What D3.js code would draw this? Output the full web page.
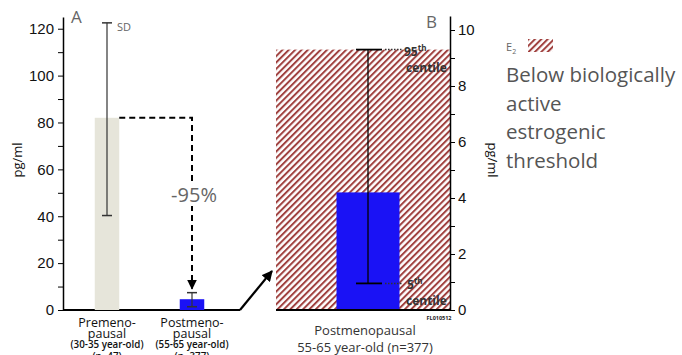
<!DOCTYPE html>
<html>
<head>
<meta charset="utf-8">
<script src="https://cdn.jsdelivr.net/npm/d3@7"></script>
<style>
  body { margin: 0; background: #fff; }
  svg { display: block; font-family: "Open Sans", sans-serif; }
</style>
</head>
<body>
<svg id="chart" width="682" height="355"></svg>
<script>
// Panel A: mean +/- SD, pg/ml
const groupsA = ["pre", "post"];
const labelsA = [
  ["Premeno-", "pausal", "(30-35 year-old)", "(n=47)"],
  ["Postmeno-", "pausal", "(55-65 year-old)", "(n=377)"]
];
const meansA = [82, 4.6];
const sdLowA = [40.3, 1.4];
const sdHighA = [122.5, 7.4];
const colorsA = ["#e6e5da", "#1a12f5"];
const ticksA = [0, 20, 40, 60, 80, 100, 120];
const minorA = [10, 30, 50, 70, 90, 110];

// Panel B: postmenopausal zoom
const meanB = 4.2;
const p5B = 0.95;
const p95B = 9.3;
const thresholdB = 9.3;
const ticksB = [0, 2, 4, 6, 8, 10];
const minorB = [1, 3, 5, 7, 9];
const labelsB = ["Postmenopausal", "55-65 year-old (n=377)"];
const legendLines = ["Below biologically", "active", "estrogenic", "threshold"];

const svg = d3.select("#chart");

// hatch pattern
const defs = svg.append("defs");
const pat = defs.append("pattern")
  .attr("id", "hatch")
  .attr("patternUnits", "userSpaceOnUse")
  .attr("width", 4.5).attr("height", 4.5)
  .attr("patternTransform", "rotate(45)");
pat.append("rect").attr("width", 4.5).attr("height", 4.5).attr("fill", "#fff");
pat.append("rect").attr("width", 2).attr("height", 4.5).attr("fill", "#a0413f");

defs.append("marker")
  .attr("id", "arrow")
  .attr("viewBox", "0 0 10 10")
  .attr("refX", 9).attr("refY", 5)
  .attr("markerWidth", 5).attr("markerHeight", 5)
  .attr("orient", "auto")
  .append("path").attr("d", "M0,0 L10,5 L0,10 z").attr("fill", "#000");

// ---- Panel A ----
const yA = d3.scaleLinear().domain([0, 125]).range([310, 17]);
const xA = d3.scalePoint().domain(groupsA).range([107, 192]);
const barW = 24.5;

const gA = svg.append("g");
gA.append("g")
  .attr("transform", "translate(63,0)")
  .call(d3.axisLeft(yA).tickValues(ticksA).tickSize(5).tickPadding(4).tickSizeOuter(0))
  .call(g => g.selectAll("text").attr("font-size", 15).attr("fill", "#111"))
  .call(g => g.select(".domain").attr("stroke-width", 1.5));
gA.append("g")
  .attr("transform", "translate(63,0)")
  .call(d3.axisLeft(yA).tickValues(minorA).tickSize(5).tickFormat(""))
  .call(g => g.select(".domain").remove());

gA.append("line")
  .attr("x1", 63).attr("x2", 240).attr("y1", yA(0)).attr("y2", yA(0))
  .attr("stroke", "#000").attr("stroke-width", 2);

gA.selectAll("rect.bar").data(groupsA).join("rect")
  .attr("class", "bar")
  .attr("x", d => xA(d) - barW / 2)
  .attr("width", barW)
  .attr("y", (d, i) => yA(meansA[i]))
  .attr("height", (d, i) => yA(0) - yA(meansA[i]))
  .attr("fill", (d, i) => colorsA[i]);

const errA = gA.selectAll("g.err").data(groupsA).join("g").attr("class", "err");
errA.append("line")
  .attr("x1", d => xA(d)).attr("x2", d => xA(d))
  .attr("y1", (d, i) => yA(sdHighA[i])).attr("y2", (d, i) => yA(sdLowA[i]))
  .attr("stroke", "#333").attr("stroke-width", 1.2);
[sdHighA, sdLowA].forEach(arr => {
  errA.append("line")
    .attr("x1", d => xA(d) - 5).attr("x2", d => xA(d) + 5)
    .attr("y1", (d, i) => yA(arr[i])).attr("y2", (d, i) => yA(arr[i]))
    .attr("stroke", "#333").attr("stroke-width", 1.5);
});

gA.append("text").attr("x", 117).attr("y", yA(sdHighA[0]) + 8)
  .attr("font-size", 11).attr("fill", "#666").text("SD");
gA.append("text").attr("x", 71).attr("y", 23)
  .attr("font-size", 17).attr("fill", "#666").text("A");

// dashed reduction arrow
gA.append("path")
  .attr("d", `M${xA("pre") + barW / 2},${yA(meansA[0])} H${xA("post")} V${yA(sdHighA[1]) - 4}`)
  .attr("fill", "none").attr("stroke", "#000").attr("stroke-width", 2)
  .attr("stroke-dasharray", "6,4")
  .attr("marker-end", "url(#arrow)");
gA.append("rect").attr("x", 168).attr("y", 184).attr("width", 50).attr("height", 22).attr("fill", "#fff");
gA.append("text").attr("x", xA("post") + 2).attr("y", 202)
  .attr("text-anchor", "middle").attr("font-size", 20).attr("fill", "#666").text("-95%");

// y label
svg.append("text")
  .attr("transform", "translate(22,160) rotate(-90)")
  .attr("text-anchor", "middle").attr("font-size", 13).attr("fill", "#111").text("pg/ml");

// x labels A
const lab = gA.selectAll("text.xl").data(groupsA).join("text")
  .attr("class", "xl").attr("text-anchor", "middle").attr("fill", "#111");
lab.each(function(d, i) {
  const t = d3.select(this);
  const ys = [326.5, 337.5, 348, 360];
  labelsA[i].forEach((s, j) => {
    t.append("tspan").attr("x", xA(d)).attr("y", ys[j])
      .attr("font-size", j < 2 ? 12.5 : 9.8).attr("font-weight", j < 2 ? 400 : 600).text(s);
  });
});

// arrow to panel B
svg.append("line")
  .attr("x1", 240).attr("y1", 310).attr("x2", 272).attr("y2", 271)
  .attr("stroke", "#000").attr("stroke-width", 2.2).attr("marker-end", "url(#arrow)");

// ---- Panel B ----
const yB = d3.scaleLinear().domain([0, 10.5]).range([310, 16]);
const bx0 = 276, bx1 = 450, bCx = 368, bW = 63;

const gB = svg.append("g");
gB.append("rect")
  .attr("x", bx0).attr("width", bx1 - bx0)
  .attr("y", yB(thresholdB)).attr("height", yB(0) - yB(thresholdB))
  .attr("fill", "url(#hatch)");
gB.append("rect")
  .attr("x", bCx - bW / 2).attr("width", bW)
  .attr("y", yB(meanB)).attr("height", yB(0) - yB(meanB))
  .attr("fill", "#1a12f5");

gB.append("line")
  .attr("x1", bCx).attr("x2", bCx).attr("y1", yB(p95B)).attr("y2", yB(p5B))
  .attr("stroke", "#000").attr("stroke-width", 1.3);
[p95B, p5B].forEach(v => {
  gB.append("line").attr("x1", bCx - 12).attr("x2", bCx + 14)
    .attr("y1", yB(v)).attr("y2", yB(v)).attr("stroke", "#000").attr("stroke-width", 1.8);
  gB.append("line").attr("x1", bCx + 17).attr("x2", bCx + 34)
    .attr("y1", yB(v)).attr("y2", yB(v)).attr("stroke", "#333").attr("stroke-width", 1.5)
    .attr("stroke-dasharray", "1.5,1.5");
});

const cent = [[p95B, "95", 404], [p5B, "5", 407]];
cent.forEach(([v, n, x]) => {
  const t = gB.append("text").attr("x", x).attr("y", yB(v) + 6)
    .attr("font-size", 12).attr("font-weight", 700).attr("fill", "#333");
  t.append("tspan").text(n);
  t.append("tspan").attr("font-size", 8).attr("dy", -5).text("th");
  gB.append("text").attr("x", 406).attr("y", yB(v) + 22)
    .attr("font-size", 12).attr("font-weight", 700).attr("fill", "#333").text("centile");
});

gB.append("g")
  .attr("transform", `translate(${bx1},0)`)
  .call(d3.axisRight(yB).tickValues(ticksB).tickSize(5).tickPadding(3).tickSizeOuter(0))
  .call(g => g.selectAll("text").attr("font-size", 15).attr("fill", "#111"))
  .call(g => g.select(".domain").attr("stroke-width", 1.5));
gB.append("g")
  .attr("transform", `translate(${bx1},0)`)
  .call(d3.axisRight(yB).tickValues(minorB).tickSize(5).tickFormat(""))
  .call(g => g.select(".domain").remove());

gB.append("line")
  .attr("x1", bx0).attr("x2", bx1).attr("y1", yB(0)).attr("y2", yB(0))
  .attr("stroke", "#000").attr("stroke-width", 2);

gB.append("text").attr("x", 426).attr("y", 28)
  .attr("font-size", 17).attr("fill", "#666").text("B");
gB.append("text").attr("x", 439).attr("y", 320).attr("text-anchor", "middle")
  .attr("font-size", 5.5).attr("font-weight", 700).attr("fill", "#222").text("FL010512");

svg.append("text")
  .attr("transform", "translate(488,160) rotate(90)")
  .attr("text-anchor", "middle").attr("font-size", 13).attr("fill", "#111").text("pg/ml");

labelsB.forEach((s, j) => {
  gB.append("text").attr("x", 365).attr("y", 335 + j * 17)
    .attr("text-anchor", "middle").attr("font-size", 13).attr("fill", "#333").text(s);
});

// legend
const lg = svg.append("g");
const e2 = lg.append("text").attr("x", 506).attr("y", 51).attr("font-size", 11).attr("fill", "#666");
e2.append("tspan").text("E");
e2.append("tspan").attr("font-size", 7).attr("dy", 3).text("2");
lg.append("rect").attr("x", 528).attr("y", 39).attr("width", 25).attr("height", 13).attr("fill", "url(#hatch)");
lg.selectAll("text.lt").data(legendLines).join("text")
  .attr("class", "lt").attr("x", 506).attr("y", (d, i) => 82 + i * 28.5)
  .attr("font-size", 20.5).attr("fill", "#555").text(d => d);
</script>
</body>
</html>
